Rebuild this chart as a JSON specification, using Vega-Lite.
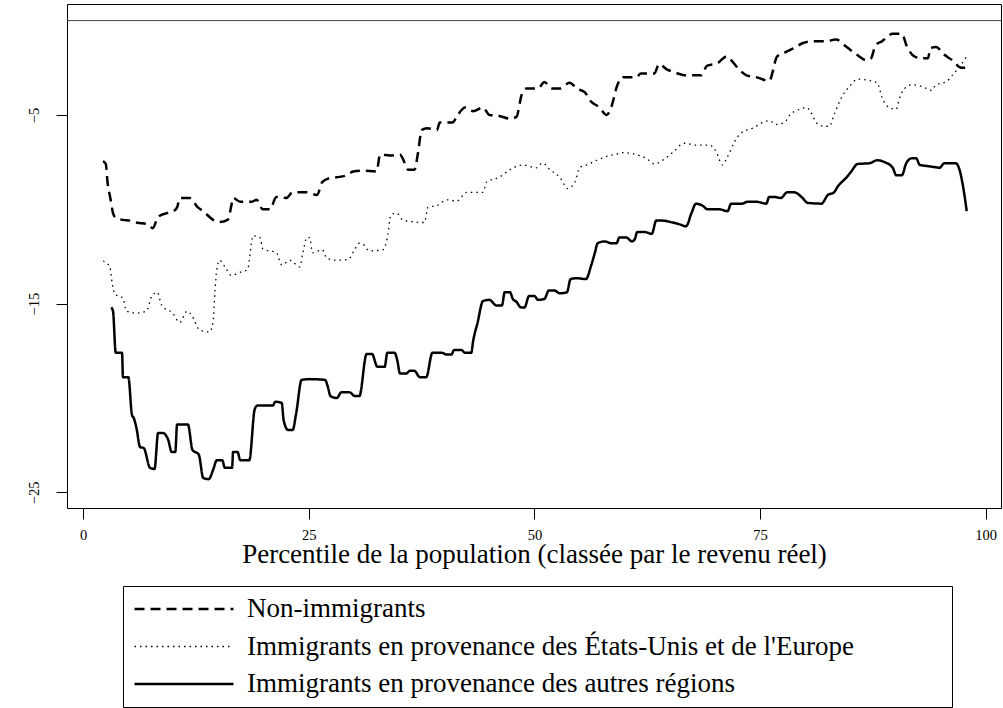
{
 "$schema": "https://vega.github.io/schema/vega-lite/v6.json",
 "width": 934,
 "height": 504,
 "autosize": {"type": "none"},
 "padding": {"left": 67, "top": 4, "right": 2, "bottom": 200},
 "background": "white",
 "config": {"view": {"stroke": "black", "strokeWidth": 1}, "font": "Liberation Serif"},
 "datasets": {
  "zero": [{"y": 0}],
  "series": [
{"x":2.2,"y":-7.45,"g":"Non-immigrants"},{"x":2.5,"y":-7.6,"g":"Non-immigrants"},{"x":2.7,"y":-8.6,"g":"Non-immigrants"},{"x":3.0,"y":-9.4,"g":"Non-immigrants"},{"x":3.3,"y":-10.2,"g":"Non-immigrants"},{"x":3.6,"y":-10.45,"g":"Non-immigrants"},{"x":4.4,"y":-10.56,"g":"Non-immigrants"},{"x":5.2,"y":-10.6,"g":"Non-immigrants"},{"x":5.9,"y":-10.7,"g":"Non-immigrants"},{"x":7.2,"y":-10.8,"g":"Non-immigrants"},{"x":7.7,"y":-11.0,"g":"Non-immigrants"},{"x":8.3,"y":-10.4,"g":"Non-immigrants"},{"x":9.3,"y":-10.2,"g":"Non-immigrants"},{"x":10.0,"y":-10.1,"g":"Non-immigrants"},{"x":10.4,"y":-9.9,"g":"Non-immigrants"},{"x":10.7,"y":-9.4,"g":"Non-immigrants"},{"x":11.8,"y":-9.4,"g":"Non-immigrants"},{"x":12.7,"y":-9.9,"g":"Non-immigrants"},{"x":13.3,"y":-10.1,"g":"Non-immigrants"},{"x":14.4,"y":-10.56,"g":"Non-immigrants"},{"x":15.1,"y":-10.67,"g":"Non-immigrants"},{"x":16.0,"y":-10.56,"g":"Non-immigrants"},{"x":16.5,"y":-9.6,"g":"Non-immigrants"},{"x":16.6,"y":-9.4,"g":"Non-immigrants"},{"x":17.4,"y":-9.6,"g":"Non-immigrants"},{"x":18.7,"y":-9.6,"g":"Non-immigrants"},{"x":19.2,"y":-9.5,"g":"Non-immigrants"},{"x":19.9,"y":-10.0,"g":"Non-immigrants"},{"x":20.7,"y":-10.0,"g":"Non-immigrants"},{"x":21.4,"y":-9.35,"g":"Non-immigrants"},{"x":22.5,"y":-9.4,"g":"Non-immigrants"},{"x":23.2,"y":-9.1,"g":"Non-immigrants"},{"x":24.8,"y":-9.1,"g":"Non-immigrants"},{"x":25.9,"y":-9.24,"g":"Non-immigrants"},{"x":26.5,"y":-8.55,"g":"Non-immigrants"},{"x":27.3,"y":-8.35,"g":"Non-immigrants"},{"x":28.1,"y":-8.3,"g":"Non-immigrants"},{"x":29.2,"y":-8.2,"g":"Non-immigrants"},{"x":29.9,"y":-8.0,"g":"Non-immigrants"},{"x":30.9,"y":-7.95,"g":"Non-immigrants"},{"x":32.5,"y":-8.0,"g":"Non-immigrants"},{"x":32.9,"y":-7.1,"g":"Non-immigrants"},{"x":34.0,"y":-7.15,"g":"Non-immigrants"},{"x":35.1,"y":-7.1,"g":"Non-immigrants"},{"x":35.4,"y":-7.3,"g":"Non-immigrants"},{"x":36.0,"y":-7.9,"g":"Non-immigrants"},{"x":36.7,"y":-7.9,"g":"Non-immigrants"},{"x":37.1,"y":-7.0,"g":"Non-immigrants"},{"x":37.5,"y":-5.8,"g":"Non-immigrants"},{"x":38.1,"y":-5.7,"g":"Non-immigrants"},{"x":39.2,"y":-5.8,"g":"Non-immigrants"},{"x":39.5,"y":-5.4,"g":"Non-immigrants"},{"x":40.9,"y":-5.4,"g":"Non-immigrants"},{"x":41.5,"y":-5.0,"g":"Non-immigrants"},{"x":42.3,"y":-4.6,"g":"Non-immigrants"},{"x":43.2,"y":-4.8,"g":"Non-immigrants"},{"x":44.3,"y":-4.6,"g":"Non-immigrants"},{"x":45.0,"y":-5.0,"g":"Non-immigrants"},{"x":46.1,"y":-5.05,"g":"Non-immigrants"},{"x":47.3,"y":-5.2,"g":"Non-immigrants"},{"x":48.0,"y":-5.1,"g":"Non-immigrants"},{"x":48.6,"y":-3.9,"g":"Non-immigrants"},{"x":49.1,"y":-3.6,"g":"Non-immigrants"},{"x":50.4,"y":-3.6,"g":"Non-immigrants"},{"x":51.1,"y":-3.25,"g":"Non-immigrants"},{"x":51.9,"y":-3.6,"g":"Non-immigrants"},{"x":52.8,"y":-3.6,"g":"Non-immigrants"},{"x":53.9,"y":-3.3,"g":"Non-immigrants"},{"x":54.7,"y":-3.6,"g":"Non-immigrants"},{"x":55.6,"y":-3.8,"g":"Non-immigrants"},{"x":56.1,"y":-4.2,"g":"Non-immigrants"},{"x":57.2,"y":-4.6,"g":"Non-immigrants"},{"x":58.0,"y":-5.0,"g":"Non-immigrants"},{"x":58.5,"y":-4.6,"g":"Non-immigrants"},{"x":59.2,"y":-3.4,"g":"Non-immigrants"},{"x":59.8,"y":-3.0,"g":"Non-immigrants"},{"x":61.3,"y":-3.0,"g":"Non-immigrants"},{"x":61.8,"y":-2.8,"g":"Non-immigrants"},{"x":63.3,"y":-2.8,"g":"Non-immigrants"},{"x":63.8,"y":-2.3,"g":"Non-immigrants"},{"x":64.7,"y":-2.6,"g":"Non-immigrants"},{"x":65.3,"y":-2.7,"g":"Non-immigrants"},{"x":66.8,"y":-2.9,"g":"Non-immigrants"},{"x":68.5,"y":-2.9,"g":"Non-immigrants"},{"x":69.1,"y":-2.4,"g":"Non-immigrants"},{"x":70.3,"y":-2.25,"g":"Non-immigrants"},{"x":71.3,"y":-1.9,"g":"Non-immigrants"},{"x":71.8,"y":-2.1,"g":"Non-immigrants"},{"x":72.7,"y":-2.6,"g":"Non-immigrants"},{"x":73.5,"y":-2.9,"g":"Non-immigrants"},{"x":74.6,"y":-3.0,"g":"Non-immigrants"},{"x":76.0,"y":-3.2,"g":"Non-immigrants"},{"x":76.9,"y":-1.9,"g":"Non-immigrants"},{"x":77.9,"y":-1.66,"g":"Non-immigrants"},{"x":78.8,"y":-1.45,"g":"Non-immigrants"},{"x":79.7,"y":-1.2,"g":"Non-immigrants"},{"x":80.8,"y":-1.1,"g":"Non-immigrants"},{"x":82.3,"y":-1.1,"g":"Non-immigrants"},{"x":83.4,"y":-1.0,"g":"Non-immigrants"},{"x":84.6,"y":-1.4,"g":"Non-immigrants"},{"x":85.7,"y":-1.8,"g":"Non-immigrants"},{"x":86.8,"y":-2.1,"g":"Non-immigrants"},{"x":87.3,"y":-2.0,"g":"Non-immigrants"},{"x":87.8,"y":-1.3,"g":"Non-immigrants"},{"x":88.5,"y":-1.1,"g":"Non-immigrants"},{"x":89.7,"y":-0.7,"g":"Non-immigrants"},{"x":90.7,"y":-0.7,"g":"Non-immigrants"},{"x":91.3,"y":-1.4,"g":"Non-immigrants"},{"x":92.1,"y":-1.9,"g":"Non-immigrants"},{"x":92.9,"y":-2.0,"g":"Non-immigrants"},{"x":93.6,"y":-2.0,"g":"Non-immigrants"},{"x":93.9,"y":-1.45,"g":"Non-immigrants"},{"x":94.5,"y":-1.4,"g":"Non-immigrants"},{"x":95.4,"y":-1.8,"g":"Non-immigrants"},{"x":96.3,"y":-2.1,"g":"Non-immigrants"},{"x":97.3,"y":-2.5,"g":"Non-immigrants"},{"x":97.8,"y":-2.5,"g":"Non-immigrants"},
{"x":2.2,"y":-12.74,"g":"Immigrants en provenance des États-Unis et de l'Europe"},{"x":2.7,"y":-12.9,"g":"Immigrants en provenance des États-Unis et de l'Europe"},{"x":2.95,"y":-13.05,"g":"Immigrants en provenance des États-Unis et de l'Europe"},{"x":3.2,"y":-13.9,"g":"Immigrants en provenance des États-Unis et de l'Europe"},{"x":3.5,"y":-14.5,"g":"Immigrants en provenance des États-Unis et de l'Europe"},{"x":4.4,"y":-14.7,"g":"Immigrants en provenance des États-Unis et de l'Europe"},{"x":4.8,"y":-15.4,"g":"Immigrants en provenance des États-Unis et de l'Europe"},{"x":5.9,"y":-15.5,"g":"Immigrants en provenance des États-Unis et de l'Europe"},{"x":7.0,"y":-15.4,"g":"Immigrants en provenance des États-Unis et de l'Europe"},{"x":7.6,"y":-14.6,"g":"Immigrants en provenance des États-Unis et de l'Europe"},{"x":8.2,"y":-14.4,"g":"Immigrants en provenance des États-Unis et de l'Europe"},{"x":8.7,"y":-15.1,"g":"Immigrants en provenance des États-Unis et de l'Europe"},{"x":9.9,"y":-15.5,"g":"Immigrants en provenance des États-Unis et de l'Europe"},{"x":10.7,"y":-16.0,"g":"Immigrants en provenance des États-Unis et de l'Europe"},{"x":11.5,"y":-15.4,"g":"Immigrants en provenance des États-Unis et de l'Europe"},{"x":12.0,"y":-15.6,"g":"Immigrants en provenance des États-Unis et de l'Europe"},{"x":12.9,"y":-16.4,"g":"Immigrants en provenance des États-Unis et de l'Europe"},{"x":14.0,"y":-16.5,"g":"Immigrants en provenance des États-Unis et de l'Europe"},{"x":14.4,"y":-15.9,"g":"Immigrants en provenance des États-Unis et de l'Europe"},{"x":14.6,"y":-14.3,"g":"Immigrants en provenance des États-Unis et de l'Europe"},{"x":14.8,"y":-13.2,"g":"Immigrants en provenance des États-Unis et de l'Europe"},{"x":15.1,"y":-12.7,"g":"Immigrants en provenance des États-Unis et de l'Europe"},{"x":15.7,"y":-13.05,"g":"Immigrants en provenance des États-Unis et de l'Europe"},{"x":16.4,"y":-13.5,"g":"Immigrants en provenance des États-Unis et de l'Europe"},{"x":17.6,"y":-13.3,"g":"Immigrants en provenance des États-Unis et de l'Europe"},{"x":18.2,"y":-13.2,"g":"Immigrants en provenance des États-Unis et de l'Europe"},{"x":18.7,"y":-11.6,"g":"Immigrants en provenance des États-Unis et de l'Europe"},{"x":18.8,"y":-11.4,"g":"Immigrants en provenance des États-Unis et de l'Europe"},{"x":19.6,"y":-11.5,"g":"Immigrants en provenance des États-Unis et de l'Europe"},{"x":19.9,"y":-12.1,"g":"Immigrants en provenance des États-Unis et de l'Europe"},{"x":21.4,"y":-12.3,"g":"Immigrants en provenance des États-Unis et de l'Europe"},{"x":22.0,"y":-12.95,"g":"Immigrants en provenance des États-Unis et de l'Europe"},{"x":22.9,"y":-12.7,"g":"Immigrants en provenance des États-Unis et de l'Europe"},{"x":24.0,"y":-13.05,"g":"Immigrants en provenance des États-Unis et de l'Europe"},{"x":24.3,"y":-12.4,"g":"Immigrants en provenance des États-Unis et de l'Europe"},{"x":24.8,"y":-11.5,"g":"Immigrants en provenance des États-Unis et de l'Europe"},{"x":25.1,"y":-11.5,"g":"Immigrants en provenance des États-Unis et de l'Europe"},{"x":25.4,"y":-12.3,"g":"Immigrants en provenance des États-Unis et de l'Europe"},{"x":26.5,"y":-12.15,"g":"Immigrants en provenance des États-Unis et de l'Europe"},{"x":27.0,"y":-12.6,"g":"Immigrants en provenance des États-Unis et de l'Europe"},{"x":28.1,"y":-12.7,"g":"Immigrants en provenance des États-Unis et de l'Europe"},{"x":29.4,"y":-12.65,"g":"Immigrants en provenance des États-Unis et de l'Europe"},{"x":30.0,"y":-12.2,"g":"Immigrants en provenance des États-Unis et de l'Europe"},{"x":30.6,"y":-11.8,"g":"Immigrants en provenance des États-Unis et de l'Europe"},{"x":31.0,"y":-11.85,"g":"Immigrants en provenance des États-Unis et de l'Europe"},{"x":31.7,"y":-12.2,"g":"Immigrants en provenance des États-Unis et de l'Europe"},{"x":33.2,"y":-12.15,"g":"Immigrants en provenance des États-Unis et de l'Europe"},{"x":33.7,"y":-11.5,"g":"Immigrants en provenance des États-Unis et de l'Europe"},{"x":34.1,"y":-10.3,"g":"Immigrants en provenance des États-Unis et de l'Europe"},{"x":34.7,"y":-10.2,"g":"Immigrants en provenance des États-Unis et de l'Europe"},{"x":35.4,"y":-10.56,"g":"Immigrants en provenance des États-Unis et de l'Europe"},{"x":36.7,"y":-10.67,"g":"Immigrants en provenance des États-Unis et de l'Europe"},{"x":37.8,"y":-10.7,"g":"Immigrants en provenance des États-Unis et de l'Europe"},{"x":38.2,"y":-9.9,"g":"Immigrants en provenance des États-Unis et de l'Europe"},{"x":39.2,"y":-9.8,"g":"Immigrants en provenance des États-Unis et de l'Europe"},{"x":40.3,"y":-9.5,"g":"Immigrants en provenance des États-Unis et de l'Europe"},{"x":41.4,"y":-9.56,"g":"Immigrants en provenance des États-Unis et de l'Europe"},{"x":42.5,"y":-9.1,"g":"Immigrants en provenance des États-Unis et de l'Europe"},{"x":44.3,"y":-9.1,"g":"Immigrants en provenance des États-Unis et de l'Europe"},{"x":44.7,"y":-8.55,"g":"Immigrants en provenance des États-Unis et de l'Europe"},{"x":46.1,"y":-8.3,"g":"Immigrants en provenance des États-Unis et de l'Europe"},{"x":47.3,"y":-7.9,"g":"Immigrants en provenance des États-Unis et de l'Europe"},{"x":48.7,"y":-7.65,"g":"Immigrants en provenance des États-Unis et de l'Europe"},{"x":50.2,"y":-7.8,"g":"Immigrants en provenance des États-Unis et de l'Europe"},{"x":50.9,"y":-7.54,"g":"Immigrants en provenance des États-Unis et de l'Europe"},{"x":51.7,"y":-7.9,"g":"Immigrants en provenance des États-Unis et de l'Europe"},{"x":52.8,"y":-8.3,"g":"Immigrants en provenance des États-Unis et de l'Europe"},{"x":53.7,"y":-8.9,"g":"Immigrants en provenance des États-Unis et de l'Europe"},{"x":54.5,"y":-8.55,"g":"Immigrants en provenance des États-Unis et de l'Europe"},{"x":55.0,"y":-7.8,"g":"Immigrants en provenance des États-Unis et de l'Europe"},{"x":55.8,"y":-7.65,"g":"Immigrants en provenance des États-Unis et de l'Europe"},{"x":56.9,"y":-7.4,"g":"Immigrants en provenance des États-Unis et de l'Europe"},{"x":58.0,"y":-7.2,"g":"Immigrants en provenance des États-Unis et de l'Europe"},{"x":59.1,"y":-7.07,"g":"Immigrants en provenance des États-Unis et de l'Europe"},{"x":59.8,"y":-7.0,"g":"Immigrants en provenance des États-Unis et de l'Europe"},{"x":61.3,"y":-7.1,"g":"Immigrants en provenance des États-Unis et de l'Europe"},{"x":62.4,"y":-7.3,"g":"Immigrants en provenance des États-Unis et de l'Europe"},{"x":63.3,"y":-7.6,"g":"Immigrants en provenance des États-Unis et de l'Europe"},{"x":64.2,"y":-7.4,"g":"Immigrants en provenance des États-Unis et de l'Europe"},{"x":65.3,"y":-7.0,"g":"Immigrants en provenance des États-Unis et de l'Europe"},{"x":66.6,"y":-6.5,"g":"Immigrants en provenance des États-Unis et de l'Europe"},{"x":67.9,"y":-6.6,"g":"Immigrants en provenance des États-Unis et de l'Europe"},{"x":69.4,"y":-6.6,"g":"Immigrants en provenance des États-Unis et de l'Europe"},{"x":70.2,"y":-7.0,"g":"Immigrants en provenance des États-Unis et de l'Europe"},{"x":70.8,"y":-7.65,"g":"Immigrants en provenance des États-Unis et de l'Europe"},{"x":71.4,"y":-7.2,"g":"Immigrants en provenance des États-Unis et de l'Europe"},{"x":72.2,"y":-6.4,"g":"Immigrants en provenance des États-Unis et de l'Europe"},{"x":72.9,"y":-5.95,"g":"Immigrants en provenance des États-Unis et de l'Europe"},{"x":74.2,"y":-5.7,"g":"Immigrants en provenance des États-Unis et de l'Europe"},{"x":75.3,"y":-5.4,"g":"Immigrants en provenance des États-Unis et de l'Europe"},{"x":76.0,"y":-5.3,"g":"Immigrants en provenance des États-Unis et de l'Europe"},{"x":76.8,"y":-5.5,"g":"Immigrants en provenance des États-Unis et de l'Europe"},{"x":77.7,"y":-5.4,"g":"Immigrants en provenance des États-Unis et de l'Europe"},{"x":78.3,"y":-5.0,"g":"Immigrants en provenance des États-Unis et de l'Europe"},{"x":79.4,"y":-4.7,"g":"Immigrants en provenance des États-Unis et de l'Europe"},{"x":80.1,"y":-4.6,"g":"Immigrants en provenance des États-Unis et de l'Europe"},{"x":80.8,"y":-5.0,"g":"Immigrants en provenance des États-Unis et de l'Europe"},{"x":81.2,"y":-5.4,"g":"Immigrants en provenance des États-Unis et de l'Europe"},{"x":82.1,"y":-5.6,"g":"Immigrants en provenance des États-Unis et de l'Europe"},{"x":82.7,"y":-5.6,"g":"Immigrants en provenance des États-Unis et de l'Europe"},{"x":83.2,"y":-5.0,"g":"Immigrants en provenance des États-Unis et de l'Europe"},{"x":84.0,"y":-4.1,"g":"Immigrants en provenance des États-Unis et de l'Europe"},{"x":84.9,"y":-3.5,"g":"Immigrants en provenance des États-Unis et de l'Europe"},{"x":85.8,"y":-3.1,"g":"Immigrants en provenance des États-Unis et de l'Europe"},{"x":86.8,"y":-3.15,"g":"Immigrants en provenance des États-Unis et de l'Europe"},{"x":88.0,"y":-3.3,"g":"Immigrants en provenance des États-Unis et de l'Europe"},{"x":88.5,"y":-4.05,"g":"Immigrants en provenance des États-Unis et de l'Europe"},{"x":89.3,"y":-4.6,"g":"Immigrants en provenance des États-Unis et de l'Europe"},{"x":90.1,"y":-4.7,"g":"Immigrants en provenance des États-Unis et de l'Europe"},{"x":90.4,"y":-4.2,"g":"Immigrants en provenance des États-Unis et de l'Europe"},{"x":91.0,"y":-3.6,"g":"Immigrants en provenance des États-Unis et de l'Europe"},{"x":91.9,"y":-3.4,"g":"Immigrants en provenance des États-Unis et de l'Europe"},{"x":93.0,"y":-3.5,"g":"Immigrants en provenance des États-Unis et de l'Europe"},{"x":94.0,"y":-3.7,"g":"Immigrants en provenance des États-Unis et de l'Europe"},{"x":94.5,"y":-3.4,"g":"Immigrants en provenance des États-Unis et de l'Europe"},{"x":95.6,"y":-3.25,"g":"Immigrants en provenance des États-Unis et de l'Europe"},{"x":96.3,"y":-2.9,"g":"Immigrants en provenance des États-Unis et de l'Europe"},{"x":97.1,"y":-2.45,"g":"Immigrants en provenance des États-Unis et de l'Europe"},{"x":97.9,"y":-1.9,"g":"Immigrants en provenance des États-Unis et de l'Europe"},
{"x":3.1,"y":-15.2,"g":"Immigrants en provenance des autres régions"},{"x":3.3,"y":-15.4,"g":"Immigrants en provenance des autres régions"},{"x":3.6,"y":-17.6,"g":"Immigrants en provenance des autres régions"},{"x":4.3,"y":-17.6,"g":"Immigrants en provenance des autres régions"},{"x":4.4,"y":-18.9,"g":"Immigrants en provenance des autres régions"},{"x":5.0,"y":-18.9,"g":"Immigrants en provenance des autres régions"},{"x":5.4,"y":-20.9,"g":"Immigrants en provenance des autres régions"},{"x":5.6,"y":-21.06,"g":"Immigrants en provenance des autres régions"},{"x":5.9,"y":-21.6,"g":"Immigrants en provenance des autres régions"},{"x":6.3,"y":-22.6,"g":"Immigrants en provenance des autres régions"},{"x":6.7,"y":-22.65,"g":"Immigrants en provenance des autres régions"},{"x":7.4,"y":-23.7,"g":"Immigrants en provenance des autres régions"},{"x":7.9,"y":-23.76,"g":"Immigrants en provenance des autres régions"},{"x":8.3,"y":-21.85,"g":"Immigrants en provenance des autres régions"},{"x":8.8,"y":-21.85,"g":"Immigrants en provenance des autres régions"},{"x":9.4,"y":-22.2,"g":"Immigrants en provenance des autres régions"},{"x":9.8,"y":-22.86,"g":"Immigrants en provenance des autres régions"},{"x":10.2,"y":-22.86,"g":"Immigrants en provenance des autres régions"},{"x":10.4,"y":-21.4,"g":"Immigrants en provenance des autres régions"},{"x":11.6,"y":-21.4,"g":"Immigrants en provenance des autres régions"},{"x":12.1,"y":-22.75,"g":"Immigrants en provenance des autres régions"},{"x":12.8,"y":-23.0,"g":"Immigrants en provenance des autres régions"},{"x":13.3,"y":-24.24,"g":"Immigrants en provenance des autres régions"},{"x":13.9,"y":-24.3,"g":"Immigrants en provenance des autres régions"},{"x":14.4,"y":-23.8,"g":"Immigrants en provenance des autres régions"},{"x":14.8,"y":-23.3,"g":"Immigrants en provenance des autres régions"},{"x":15.4,"y":-23.3,"g":"Immigrants en provenance des autres régions"},{"x":15.7,"y":-23.7,"g":"Immigrants en provenance des autres régions"},{"x":16.5,"y":-23.7,"g":"Immigrants en provenance des autres régions"},{"x":16.6,"y":-22.86,"g":"Immigrants en provenance des autres régions"},{"x":17.1,"y":-22.86,"g":"Immigrants en provenance des autres régions"},{"x":17.4,"y":-23.3,"g":"Immigrants en provenance des autres régions"},{"x":18.4,"y":-23.3,"g":"Immigrants en provenance des autres régions"},{"x":19.0,"y":-20.6,"g":"Immigrants en provenance des autres régions"},{"x":19.3,"y":-20.4,"g":"Immigrants en provenance des autres régions"},{"x":21.0,"y":-20.4,"g":"Immigrants en provenance des autres régions"},{"x":21.3,"y":-20.2,"g":"Immigrants en provenance des autres régions"},{"x":22.0,"y":-20.26,"g":"Immigrants en provenance des autres régions"},{"x":22.2,"y":-21.16,"g":"Immigrants en provenance des autres régions"},{"x":22.7,"y":-21.7,"g":"Immigrants en provenance des autres régions"},{"x":23.2,"y":-21.7,"g":"Immigrants en provenance des autres régions"},{"x":23.6,"y":-20.8,"g":"Immigrants en provenance des autres régions"},{"x":24.2,"y":-19.04,"g":"Immigrants en provenance des autres régions"},{"x":25.1,"y":-19.0,"g":"Immigrants en provenance des autres régions"},{"x":26.8,"y":-19.04,"g":"Immigrants en provenance des autres régions"},{"x":27.1,"y":-19.4,"g":"Immigrants en provenance des autres régions"},{"x":27.4,"y":-19.9,"g":"Immigrants en provenance des autres régions"},{"x":28.1,"y":-20.0,"g":"Immigrants en provenance des autres régions"},{"x":28.6,"y":-19.7,"g":"Immigrants en provenance des autres régions"},{"x":29.5,"y":-19.7,"g":"Immigrants en provenance des autres régions"},{"x":30.1,"y":-19.9,"g":"Immigrants en provenance des autres régions"},{"x":30.6,"y":-19.9,"g":"Immigrants en provenance des autres régions"},{"x":31.4,"y":-17.67,"g":"Immigrants en provenance des autres régions"},{"x":32.0,"y":-17.67,"g":"Immigrants en provenance des autres régions"},{"x":32.6,"y":-18.35,"g":"Immigrants en provenance des autres régions"},{"x":33.4,"y":-18.35,"g":"Immigrants en provenance des autres régions"},{"x":33.7,"y":-17.6,"g":"Immigrants en provenance des autres régions"},{"x":34.5,"y":-17.6,"g":"Immigrants en provenance des autres régions"},{"x":34.8,"y":-18.0,"g":"Immigrants en provenance des autres régions"},{"x":35.1,"y":-18.7,"g":"Immigrants en provenance des autres régions"},{"x":35.8,"y":-18.7,"g":"Immigrants en provenance des autres régions"},{"x":36.2,"y":-18.56,"g":"Immigrants en provenance des autres régions"},{"x":36.7,"y":-18.56,"g":"Immigrants en provenance des autres régions"},{"x":37.3,"y":-18.9,"g":"Immigrants en provenance des autres régions"},{"x":38.0,"y":-18.9,"g":"Immigrants en provenance des autres régions"},{"x":38.7,"y":-17.6,"g":"Immigrants en provenance des autres régions"},{"x":39.7,"y":-17.6,"g":"Immigrants en provenance des autres régions"},{"x":40.3,"y":-17.7,"g":"Immigrants en provenance des autres régions"},{"x":40.8,"y":-17.7,"g":"Immigrants en provenance des autres régions"},{"x":41.1,"y":-17.45,"g":"Immigrants en provenance des autres régions"},{"x":41.9,"y":-17.45,"g":"Immigrants en provenance des autres régions"},{"x":42.3,"y":-17.6,"g":"Immigrants en provenance des autres régions"},{"x":43.0,"y":-17.6,"g":"Immigrants en provenance des autres régions"},{"x":43.2,"y":-17.0,"g":"Immigrants en provenance des autres régions"},{"x":43.7,"y":-16.0,"g":"Immigrants en provenance des autres régions"},{"x":44.3,"y":-14.86,"g":"Immigrants en provenance des autres régions"},{"x":45.0,"y":-14.8,"g":"Immigrants en provenance des autres régions"},{"x":45.8,"y":-15.1,"g":"Immigrants en provenance des autres régions"},{"x":46.4,"y":-15.1,"g":"Immigrants en provenance des autres régions"},{"x":46.7,"y":-14.4,"g":"Immigrants en provenance des autres régions"},{"x":47.3,"y":-14.4,"g":"Immigrants en provenance des autres régions"},{"x":47.6,"y":-14.75,"g":"Immigrants en provenance des autres régions"},{"x":48.0,"y":-14.9,"g":"Immigrants en provenance des autres régions"},{"x":48.5,"y":-15.2,"g":"Immigrants en provenance des autres régions"},{"x":48.9,"y":-15.2,"g":"Immigrants en provenance des autres régions"},{"x":49.4,"y":-14.6,"g":"Immigrants en provenance des autres régions"},{"x":50.0,"y":-14.6,"g":"Immigrants en provenance des autres régions"},{"x":50.4,"y":-14.8,"g":"Immigrants en provenance des autres régions"},{"x":51.1,"y":-14.75,"g":"Immigrants en provenance des autres régions"},{"x":51.6,"y":-14.3,"g":"Immigrants en provenance des autres régions"},{"x":52.2,"y":-14.3,"g":"Immigrants en provenance des autres régions"},{"x":52.8,"y":-14.45,"g":"Immigrants en provenance des autres régions"},{"x":53.6,"y":-14.4,"g":"Immigrants en provenance des autres régions"},{"x":54.0,"y":-13.7,"g":"Immigrants en provenance des autres régions"},{"x":54.7,"y":-13.65,"g":"Immigrants en provenance des autres régions"},{"x":55.7,"y":-13.7,"g":"Immigrants en provenance des autres régions"},{"x":56.3,"y":-12.95,"g":"Immigrants en provenance des autres régions"},{"x":56.7,"y":-12.3,"g":"Immigrants en provenance des autres régions"},{"x":57.0,"y":-11.8,"g":"Immigrants en provenance des autres régions"},{"x":57.8,"y":-11.7,"g":"Immigrants en provenance des autres régions"},{"x":58.5,"y":-11.8,"g":"Immigrants en provenance des autres régions"},{"x":59.1,"y":-11.8,"g":"Immigrants en provenance des autres régions"},{"x":59.4,"y":-11.5,"g":"Immigrants en provenance des autres régions"},{"x":60.2,"y":-11.5,"g":"Immigrants en provenance des autres régions"},{"x":60.8,"y":-11.7,"g":"Immigrants en provenance des autres régions"},{"x":61.1,"y":-11.6,"g":"Immigrants en provenance des autres régions"},{"x":61.4,"y":-11.2,"g":"Immigrants en provenance des autres régions"},{"x":62.2,"y":-11.2,"g":"Immigrants en provenance des autres régions"},{"x":63.0,"y":-11.3,"g":"Immigrants en provenance des autres régions"},{"x":63.5,"y":-10.6,"g":"Immigrants en provenance des autres régions"},{"x":64.2,"y":-10.6,"g":"Immigrants en provenance des autres régions"},{"x":65.3,"y":-10.7,"g":"Immigrants en provenance des autres régions"},{"x":66.1,"y":-10.8,"g":"Immigrants en provenance des autres régions"},{"x":66.8,"y":-10.9,"g":"Immigrants en provenance des autres régions"},{"x":67.4,"y":-10.2,"g":"Immigrants en provenance des autres régions"},{"x":67.9,"y":-9.7,"g":"Immigrants en provenance des autres régions"},{"x":68.6,"y":-9.8,"g":"Immigrants en provenance des autres régions"},{"x":69.2,"y":-10.0,"g":"Immigrants en provenance des autres régions"},{"x":70.5,"y":-10.0,"g":"Immigrants en provenance des autres régions"},{"x":71.4,"y":-10.1,"g":"Immigrants en provenance des autres régions"},{"x":71.8,"y":-9.7,"g":"Immigrants en provenance des autres régions"},{"x":73.0,"y":-9.7,"g":"Immigrants en provenance des autres régions"},{"x":73.6,"y":-9.6,"g":"Immigrants en provenance des autres régions"},{"x":74.6,"y":-9.6,"g":"Immigrants en provenance des autres régions"},{"x":75.7,"y":-9.7,"g":"Immigrants en provenance des autres régions"},{"x":76.0,"y":-9.35,"g":"Immigrants en provenance des autres régions"},{"x":76.6,"y":-9.35,"g":"Immigrants en provenance des autres régions"},{"x":77.3,"y":-9.4,"g":"Immigrants en provenance des autres régions"},{"x":78.0,"y":-9.1,"g":"Immigrants en provenance des autres régions"},{"x":78.8,"y":-9.1,"g":"Immigrants en provenance des autres régions"},{"x":79.6,"y":-9.35,"g":"Immigrants en provenance des autres régions"},{"x":80.3,"y":-9.66,"g":"Immigrants en provenance des autres régions"},{"x":81.8,"y":-9.7,"g":"Immigrants en provenance des autres régions"},{"x":82.5,"y":-9.25,"g":"Immigrants en provenance des autres régions"},{"x":83.2,"y":-9.1,"g":"Immigrants en provenance des autres régions"},{"x":83.6,"y":-8.8,"g":"Immigrants en provenance des autres régions"},{"x":84.6,"y":-8.3,"g":"Immigrants en provenance des autres régions"},{"x":85.1,"y":-8.0,"g":"Immigrants en provenance des autres régions"},{"x":85.8,"y":-7.6,"g":"Immigrants en provenance des autres régions"},{"x":87.1,"y":-7.56,"g":"Immigrants en provenance des autres régions"},{"x":88.0,"y":-7.4,"g":"Immigrants en provenance des autres régions"},{"x":88.8,"y":-7.5,"g":"Immigrants en provenance des autres régions"},{"x":89.7,"y":-7.8,"g":"Immigrants en provenance des autres régions"},{"x":90.1,"y":-8.2,"g":"Immigrants en provenance des autres régions"},{"x":90.7,"y":-8.2,"g":"Immigrants en provenance des autres régions"},{"x":91.2,"y":-7.56,"g":"Immigrants en provenance des autres régions"},{"x":91.8,"y":-7.3,"g":"Immigrants en provenance des autres régions"},{"x":92.3,"y":-7.3,"g":"Immigrants en provenance des autres régions"},{"x":92.7,"y":-7.65,"g":"Immigrants en provenance des autres régions"},{"x":93.4,"y":-7.7,"g":"Immigrants en provenance des autres régions"},{"x":94.3,"y":-7.76,"g":"Immigrants en provenance des autres régions"},{"x":94.9,"y":-7.8,"g":"Immigrants en provenance des autres régions"},{"x":95.4,"y":-7.56,"g":"Immigrants en provenance des autres régions"},{"x":96.7,"y":-7.56,"g":"Immigrants en provenance des autres régions"},{"x":97.1,"y":-7.9,"g":"Immigrants en provenance des autres régions"},{"x":97.5,"y":-8.8,"g":"Immigrants en provenance des autres régions"},{"x":97.9,"y":-10.1,"g":"Immigrants en provenance des autres régions"}
  ]
 },
 "layer": [
  {
   "data": {"name": "zero"},
   "mark": {"type": "rule", "color": "#444444", "strokeWidth": 1},
   "encoding": {"y": {"field": "y", "type": "quantitative"}}
  },
  {
   "data": {"name": "series"},
   "mark": {"type": "line", "interpolate": "monotone", "color": "black"},
   "encoding": {
    "x": {"field": "x", "type": "quantitative",
     "scale": {"domain": [-1.8, 101.7], "nice": false, "zero": false},
     "axis": {"values": [0, 25, 50, 75, 100], "title": "Percentile de la population (classée par le revenu réel)",
      "domain": false, "grid": false, "tickColor": "black", "tickSize": 11, "labelFlush": false,
      "labelFont": "Liberation Serif", "labelFontSize": 14.5, "labelColor": "black", "labelPadding": 9,
      "titleFont": "Liberation Serif", "titleFontSize": 27, "titleFontWeight": "normal", "titleColor": "black",
      "titleBaseline": "alphabetic", "titleY": 54}},
    "y": {"field": "y", "type": "quantitative",
     "scale": {"domain": [-25.83, 0.88], "nice": false, "zero": false},
     "axis": {"values": [-5, -15, -25], "title": null, "domain": false, "grid": false, "tickColor": "black", "tickSize": 11,
      "labelFont": "Liberation Serif", "labelFontSize": 14.5, "labelColor": "black", "labelAngle": 270,
      "labelAlign": "center", "labelBaseline": "alphabetic", "labelPadding": 18, "labelFlush": false}},
    "strokeDash": {"field": "g", "type": "nominal",
     "scale": {"domain": ["Non-immigrants", "Immigrants en provenance des États-Unis et de l'Europe", "Immigrants en provenance des autres régions"],
      "range": [[10, 6], [1.5, 4], [1, 0]]},
     "legend": {"title": null, "orient": "none", "legendX": 56, "legendY": 582, "symbolType": "stroke", "symbolSize": 9801,
      "clipHeight": 26, "symbolStrokeColor": "black", "labelFont": "Liberation Serif", "labelFontSize": 27, "labelColor": "black",
      "labelOffset": 12, "labelLimit": 2000, "rowPadding": 10.5, "padding": 10, "strokeColor": "black", "fillColor": "white",
      "labelExpr": "indexof(datum.label, 'Europe') > 0 ? datum.label + '\u00a0\u00a0\u00a0\u00a0\u00a0\u00a0\u00a0\u00a0\u00a0\u00a0\u00a0\u00a0\u00a0\u200b' : datum.label"}},
    "strokeWidth": {"field": "g", "type": "nominal",
     "scale": {"type": "ordinal", "domain": ["Non-immigrants", "Immigrants en provenance des États-Unis et de l'Europe", "Immigrants en provenance des autres régions"],
      "range": [2.5, 1.3, 2.5]},
     "legend": {"title": null, "orient": "none", "legendX": 56, "legendY": 582, "symbolType": "stroke", "symbolSize": 9801,
      "clipHeight": 26, "symbolStrokeColor": "black", "labelFont": "Liberation Serif", "labelFontSize": 27, "labelColor": "black",
      "labelOffset": 12, "labelLimit": 2000, "rowPadding": 10.5, "padding": 10, "strokeColor": "black", "fillColor": "white",
      "labelExpr": "indexof(datum.label, 'Europe') > 0 ? datum.label + '\u00a0\u00a0\u00a0\u00a0\u00a0\u00a0\u00a0\u00a0\u00a0\u00a0\u00a0\u00a0\u00a0\u200b' : datum.label"}}
   }
  }
 ]
}
